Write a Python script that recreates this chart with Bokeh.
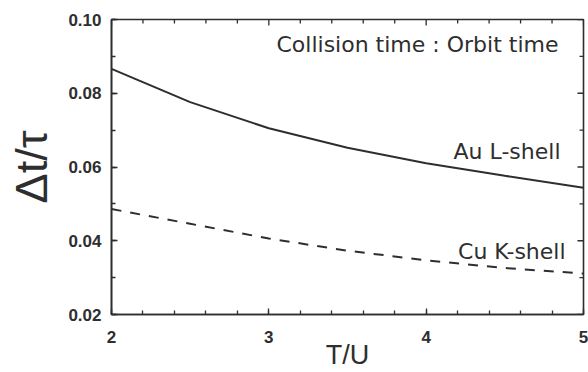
import math
from bokeh.plotting import figure
from bokeh.models import SingleIntervalTicker, NumeralTickFormatter, Label, Range1d
from bokeh.embed import file_html
from bokeh.resources import INLINE

# Data
t_over_u = [2.0, 2.5, 3.0, 3.5, 4.0, 4.5, 5.0]
au_l_shell = [0.0866, 0.0776, 0.0705, 0.0652, 0.0610, 0.0576, 0.0544]
cu_k_shell = [0.0486, 0.0446, 0.0406, 0.0373, 0.0347, 0.0326, 0.0311]

x_major_ticks = [2, 3, 4, 5]
x_minor_ticks = [2.2, 2.4, 2.6, 2.8, 3.2, 3.4, 3.6, 3.8, 4.2, 4.4, 4.6, 4.8]
y_major_ticks = [0.02, 0.04, 0.06, 0.08, 0.10]
y_minor_ticks = [0.03, 0.05, 0.07, 0.09]
x_lo, x_hi = 2, 5
y_lo, y_hi = 0.02, 0.10

x_title = "T/U"
y_title = "\u0394t/\u03c4"
title_text = "Collision time : Orbit time"
au_label = "Au L-shell"
cu_label = "Cu K-shell"

INK = "#2e2e2e"
FONT = "Liberation Sans"
LABEL_FONT = "DejaVu Sans"

p = figure(width=588, height=372, output_backend="svg", toolbar_location=None,
           x_range=Range1d(x_lo, x_hi), y_range=Range1d(y_lo, y_hi),
           x_axis_label=x_title, y_axis_label=y_title,
           min_border_left=111, min_border_right=5,
           min_border_top=19, min_border_bottom=58)
p.background_fill_color = "white"
p.border_fill_color = "white"
p.xgrid.visible = False
p.ygrid.visible = False
p.outline_line_color = INK
p.outline_line_width = 1.6

p.xaxis.ticker = SingleIntervalTicker(interval=1, num_minor_ticks=5)
p.yaxis.ticker = SingleIntervalTicker(interval=0.02, num_minor_ticks=2)
p.yaxis.formatter = NumeralTickFormatter(format="0.00")
for ax in (p.xaxis[0], p.yaxis[0]):
    ax.axis_line_color = INK
    ax.axis_line_width = 1.6
    ax.major_tick_in = 6
    ax.major_tick_out = 0
    ax.minor_tick_in = 4
    ax.minor_tick_out = 0
    ax.major_tick_line_color = INK
    ax.minor_tick_line_color = INK
    ax.major_tick_line_width = 1.3
    ax.minor_tick_line_width = 1.3
    ax.major_label_text_font = FONT
    ax.major_label_text_font_style = "bold"
    ax.major_label_text_font_size = "17px"
    ax.major_label_text_color = INK
    ax.axis_label_text_font = FONT
    ax.axis_label_text_font_style = "normal"
    ax.axis_label_text_color = INK
p.xaxis.axis_label_text_font_size = "27px"
p.xaxis.axis_label_text_line_height = 0.5
p.yaxis.axis_label_text_font_size = "45px"
p.yaxis.axis_label_text_line_height = 0.9
p.xaxis.major_label_standoff = 16
p.yaxis.major_label_standoff = 10
p.xaxis.axis_label_standoff = -6
p.yaxis.axis_label_standoff = 8

# mirrored inward ticks on the top and right edges
for ticks, ln in ((x_major_ticks, 6), (x_minor_ticks, 4)):
    p.ray(ticks, [y_hi] * len(ticks), length=ln, length_units="screen",
          angle=-math.pi / 2, line_color=INK, line_width=1.3)
for ticks, ln in ((y_major_ticks, 6), (y_minor_ticks, 4)):
    p.ray([x_hi] * len(ticks), ticks, length=ln, length_units="screen",
          angle=math.pi, line_color=INK, line_width=1.3)

p.line(t_over_u, au_l_shell, line_color=INK, line_width=2)
p.line(t_over_u, cu_k_shell, line_color=INK, line_width=2, line_dash="10 9")

for txt, x, y in [(title_text, 4.841, 0.0932), (au_label, 4.854, 0.0641),
                  (cu_label, 4.886, 0.0372)]:
    p.add_layout(Label(x=x, y=y, text=txt, text_align="right",
                       text_baseline="middle", text_font=LABEL_FONT,
                       text_font_size="22px", text_color=INK))

open("out.html", "w").write(file_html(p, INLINE))
